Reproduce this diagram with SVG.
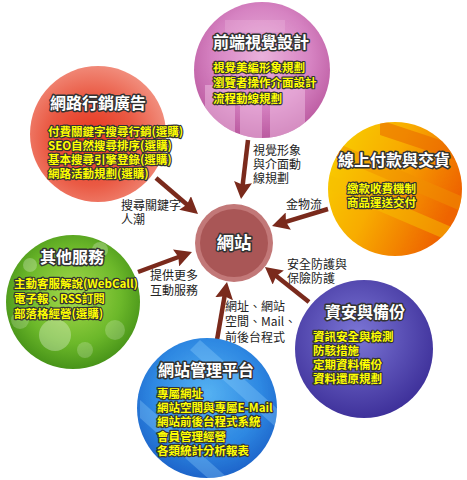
<svg xmlns="http://www.w3.org/2000/svg" width="467" height="480" viewBox="0 0 467 480">
<style>
.title{font-family:"Noto Sans CJK TC","Noto Sans CJK SC",sans-serif;font-weight:bold;font-size:16px;fill:#fff;stroke:#333;stroke-width:3;paint-order:stroke;stroke-linejoin:round}
.item{font-family:"Noto Sans CJK TC","Noto Sans CJK SC",sans-serif;font-weight:bold;font-size:11.5px;fill:#ffff00;stroke:#333;stroke-width:2.4;paint-order:stroke;stroke-linejoin:round}
.lbl{font-family:"Noto Sans CJK TC","Noto Sans CJK SC",sans-serif;font-size:12px;fill:#222}
.conn{stroke:#7a2a1c;stroke-width:4.5;fill:none;marker-end:url(#ah)}
</style>
<defs>
<marker id="ah" markerUnits="userSpaceOnUse" markerWidth="19" markerHeight="18" refX="7" refY="9" orient="auto">
<path d="M0,0 L17,9 L0,18 L2.5,9 z" fill="#7a2a1c"/>
</marker>
<radialGradient id="gPink" cx="50%" cy="40%" r="60%"><stop offset="0" stop-color="#eab2dc"/><stop offset="0.6" stop-color="#d683c2"/><stop offset="1" stop-color="#bb5aa0"/></radialGradient>
<radialGradient id="gOrange" cx="45%" cy="55%" r="60%"><stop offset="0" stop-color="#e6321c"/><stop offset="0.55" stop-color="#ea5a44"/><stop offset="1" stop-color="#f29484"/></radialGradient>
<linearGradient id="gYellow" x1="0" y1="0" x2="1" y2="0.5"><stop offset="0" stop-color="#f8d400"/><stop offset="0.5" stop-color="#f8ac00"/><stop offset="1" stop-color="#ee6400"/></linearGradient>
<radialGradient id="gGreen" cx="50%" cy="45%" r="60%"><stop offset="0" stop-color="#a6da4c"/><stop offset="0.6" stop-color="#6cb82a"/><stop offset="1" stop-color="#3e8a14"/></radialGradient>
<radialGradient id="gPurple" cx="45%" cy="40%" r="65%"><stop offset="0" stop-color="#7c76d6"/><stop offset="1" stop-color="#3a2c96"/></radialGradient>
<radialGradient id="gBlue" cx="50%" cy="40%" r="65%"><stop offset="0" stop-color="#56b2f2"/><stop offset="0.6" stop-color="#2e88e2"/><stop offset="1" stop-color="#1a5cc4"/></radialGradient>
<clipPath id="cPink"><circle cx="262" cy="70" r="68"/></clipPath>
<clipPath id="cYellow"><circle cx="395" cy="189" r="67"/></clipPath>
<clipPath id="cGreen"><circle cx="73" cy="302" r="67"/></clipPath>
<clipPath id="cBlue"><circle cx="207" cy="408" r="70"/></clipPath>
</defs>
<rect width="467" height="480" fill="#fff"/>

<g id="connectors">
<line class="conn" x1="248" y1="140" x2="242.2" y2="189.1"/>
<line class="conn" x1="156" y1="178" x2="190.4" y2="207.5"/>
<line class="conn" x1="328" y1="209" x2="281.6" y2="223.1"/>
<line class="conn" x1="138" y1="272" x2="182.6" y2="255.5"/>
<line class="conn" x1="309" y1="302" x2="272.8" y2="273.2"/>
<line class="conn" x1="217" y1="340" x2="225.3" y2="291.9"/>
</g>

<g id="labels">
<text class="lbl" x="253" y="154.5">視覺形象<tspan x="253" dy="14">與介面動</tspan><tspan x="253" dy="14">線規劃</tspan></text>
<text class="lbl" x="121" y="209.5">搜尋關鍵字<tspan x="121" dy="14">人潮</tspan></text>
<text class="lbl" x="286" y="208.5">金物流</text>
<text class="lbl" x="150" y="279.5">提供更多<tspan x="150" dy="15">互動服務</tspan></text>
<text class="lbl" x="287" y="268.5">安全防護與<tspan x="287" dy="14">保險防護</tspan></text>
<text class="lbl" x="225" y="310.5">網址、網站<tspan x="225" dy="15">空間、Mail、</tspan><tspan x="225" dy="16">前後台程式</tspan></text>
</g>

<g id="node-frontend">
<circle cx="262" cy="70" r="68" fill="url(#gPink)"/>
<g clip-path="url(#cPink)" fill="#f4cbe8" opacity="0.45">
<rect x="205" y="85" width="30" height="60"/>
<rect x="240" y="95" width="22" height="50"/>
<rect x="270" y="88" width="35" height="55"/>
<rect x="225" y="20" width="60" height="12" opacity="0.5"/>
</g>
<text class="title" x="213" y="48">前端視覺設計</text>
<text class="item" x="213" y="71.5">視覺美編形象規劃<tspan x="213" dy="15.5">瀏覽者操作介面設計</tspan><tspan x="213" dy="15.5">流程動線規劃</tspan></text>
</g>

<g id="node-marketing">
<circle cx="98" cy="134" r="68" fill="url(#gOrange)"/>
<text class="title" x="50" y="109">網路行銷廣告</text>
<text class="item" x="48" y="135.5">付費關鍵字搜尋行銷(選購)<tspan x="48" dy="14">SEO自然搜尋排序(選購)</tspan><tspan x="48" dy="14">基本搜尋引擎登錄(選購)</tspan><tspan x="48" dy="14">網路活動規劃(選購)</tspan></text>
</g>

<g id="node-payment">
<circle cx="395" cy="189" r="67" fill="url(#gYellow)"/>
<g clip-path="url(#cYellow)" opacity="0.5">
<path d="M330,140 L470,200 L470,215 L330,155 z" fill="#f09000"/>
<path d="M330,175 L470,235 L470,250 L330,190 z" fill="#f6c000"/>
<path d="M380,120 L470,150 L470,165 L380,135 z" fill="#e86000"/>
</g>
<text class="title" x="338" y="166">線上付款與交貨</text>
<text class="item" x="347" y="192.5">繳款收費機制<tspan x="347" dy="14">商品運送交付</tspan></text>
</g>

<g id="node-other">
<circle cx="73" cy="302" r="67" fill="url(#gGreen)"/>
<g clip-path="url(#cGreen)" fill="#ffffff">
<circle cx="55" cy="335" r="16" opacity="0.3"/>
<circle cx="100" cy="250" r="8" opacity="0.25"/>
<circle cx="30" cy="265" r="7" opacity="0.25"/>
<circle cx="115" cy="330" r="10" opacity="0.2"/>
<circle cx="85" cy="350" r="8" opacity="0.2"/>
<circle cx="20" cy="320" r="9" opacity="0.2"/>
</g>
<text class="title" x="40" y="263">其他服務</text>
<text class="item" x="14" y="287.5">主動客服解說(WebCall)<tspan x="14" dy="15">電子報、RSS訂閱</tspan><tspan x="14" dy="15">部落格經營(選購)</tspan></text>
</g>

<g id="node-security">
<circle cx="364" cy="349" r="69" fill="url(#gPurple)"/>
<text class="title" x="325" y="318">資安與備份</text>
<text class="item" x="313" y="340.5">資訊安全與檢測<tspan x="313" dy="14">防駭措施</tspan><tspan x="313" dy="14">定期資料備份</tspan><tspan x="313" dy="14">資料還原規劃</tspan></text>
</g>

<g id="node-platform">
<circle cx="207" cy="408" r="70" fill="url(#gBlue)"/>
<g clip-path="url(#cBlue)" fill="#9ad6ff" opacity="0.3">
<path d="M200,340 L290,420 L290,440 L190,350 z"/>
<path d="M140,400 L230,480 L210,480 L140,418 z"/>
</g>
<text class="title" x="158" y="376">網站管理平台</text>
<text class="item" x="157" y="397.5">專屬網址<tspan x="157" dy="14">網站空間與專屬E-Mail</tspan><tspan x="157" dy="14.5">網站前後台程式系統</tspan><tspan x="157" dy="14.5">會員管理經營</tspan><tspan x="157" dy="14">各類統計分析報表</tspan></text>
</g>

<g id="node-website">
<circle cx="234" cy="243" r="39" fill="#c27878"/>
<circle cx="234" cy="243" r="34" fill="#a95656"/>
<text class="title" x="234" y="249" text-anchor="middle" style="font-size:17.5px">網站</text>
</g>
</svg>
